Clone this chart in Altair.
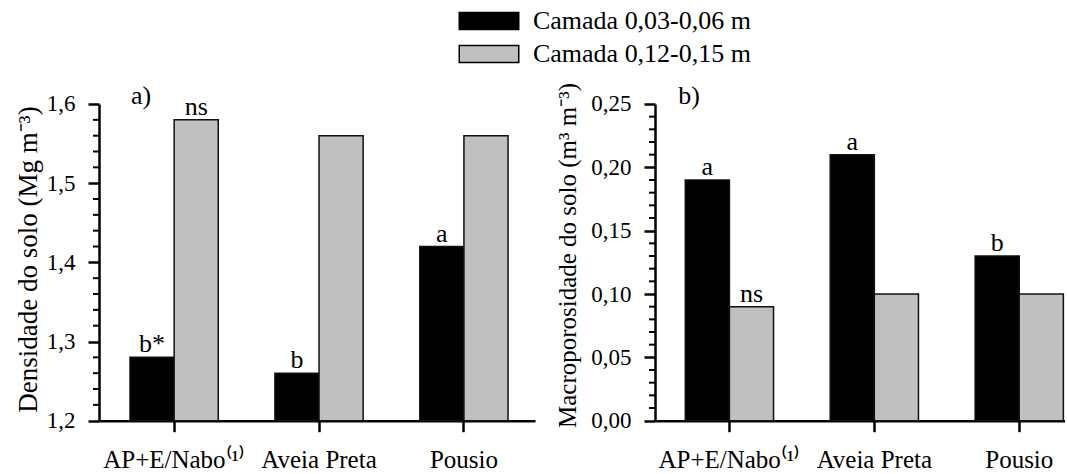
import altair as alt
import pandas as pd

categories = ["AP+E/Nabo⁽¹⁾", "Aveia Preta", "Pousio"]
series = ["Camada 0,03-0,06 m", "Camada 0,12-0,15 m"]

dens_top = [1.28, 1.26, 1.42]
dens_deep = [1.58, 1.56, 1.56]
dens_lab_top = ["b*", "b", "a"]
dens_lab_deep = ["ns", "", ""]

macro_top = [0.19, 0.21, 0.13]
macro_deep = [0.09, 0.10, 0.10]
macro_lab_top = ["a", "a", "b"]
macro_lab_deep = ["ns", "", ""]

dens_major = [1.2, 1.3, 1.4, 1.5, 1.6]
dens_minor = [1.22, 1.24, 1.26, 1.28, 1.32, 1.34, 1.36, 1.38,
              1.42, 1.44, 1.46, 1.48, 1.52, 1.54, 1.56, 1.58]
macro_major = [0.0, 0.05, 0.10, 0.15, 0.20, 0.25]
macro_minor = [0.01, 0.02, 0.03, 0.04, 0.06, 0.07, 0.08, 0.09,
               0.11, 0.12, 0.13, 0.14, 0.16, 0.17, 0.18, 0.19,
               0.21, 0.22, 0.23, 0.24]

FONT = "Liberation Serif"


def make_df(top, deep, lab_top, lab_deep):
    rows = []
    for i, c in enumerate(categories):
        rows.append({"cat": c, "series": series[0], "value": top[i], "lab": lab_top[i]})
        rows.append({"cat": c, "series": series[1], "value": deep[i], "lab": lab_deep[i]})
    return pd.DataFrame(rows)


def panel(df, domain, major, minor, decimals, title, title_x, title_y, title_fs,
          letter, letter_x, width, pad_outer, align, legend):
    xenc = alt.X(
        "cat:N", sort=categories,
        scale=alt.Scale(paddingInner=0.391, paddingOuter=pad_outer, align=align),
        axis=alt.Axis(title=None, labelFont=FONT, labelFontSize=25, labelColor="black",
                      labelAngle=0, labelBaseline="alphabetic", labelPadding=36,
                      tickSize=11, tickWidth=2.5, tickColor="black",
                      domainColor="black", domainWidth=2.5, grid=False),
    )
    xoff = alt.XOffset("series:N", sort=series,
                       scale=alt.Scale(paddingInner=0, paddingOuter=0))
    yscale = alt.Scale(domain=domain, zero=False, nice=False)
    yaxis = alt.Axis(
        values=major,
        labelExpr=f"replace(format(datum.value, '.{decimals}f'), '.', ',')",
        labelFont=FONT, labelFontSize=23, labelColor="black", labelPadding=13,
        tickSize=11, tickWidth=2.5, tickColor="black",
        domainColor="black", domainWidth=2.5, grid=False,
        title=title, titleFont=FONT, titleFontSize=title_fs, titleFontWeight="normal",
        titleColor="black", titleAngle=270, titleBaseline="alphabetic",
        titleAlign="center", titleX=title_x, titleY=title_y,
    )
    yenc = alt.Y("value:Q", scale=yscale, axis=yaxis)

    color = alt.Color(
        "series:N", sort=series,
        scale=alt.Scale(domain=series, range=["#000000", "#c0c0c0"]),
        legend=legend,
    )

    base = alt.Chart(df)
    bars = base.mark_bar(stroke="#111111", strokeWidth=1.5).encode(
        x=xenc, xOffset=xoff, y=yenc, y2=alt.datum(domain[0]), color=color
    )
    labels = base.mark_text(baseline="alphabetic", dy=-5, font=FONT, fontSize=26,
                            color="black").encode(
        x=xenc, xOffset=xoff, y=yenc, text="lab:N"
    )
    minor_df = pd.DataFrame({"value": minor})
    minor_ticks = alt.Chart(minor_df).mark_rule(color="black", strokeWidth=2).encode(
        y=yenc, x=alt.value(-6), x2=alt.value(0)
    )
    letter_df = pd.DataFrame({"t": [letter]})
    letter_mark = alt.Chart(letter_df).mark_text(
        baseline="alphabetic", align="center", font=FONT, fontSize=26, color="black"
    ).encode(x=alt.value(letter_x), y=alt.value(0), text="t:N")

    return alt.layer(bars, labels, minor_ticks, letter_mark).properties(
        width=width, height=316.7
    )


legend_left = alt.Legend(
    orient="none", legendX=377, legendY=-96, title=None, direction="vertical",
    symbolType="M-3.5,-1H3.5V1H-3.5Z", symbolSize=289,
    symbolStrokeColor="black", symbolStrokeWidth=1.5, symbolOpacity=1,
    labelFont=FONT, labelFontSize=26, labelColor="black", labelOffset=31,
    rowPadding=7, labelLimit=400,
)

left = panel(make_df(dens_top, dens_deep, dens_lab_top, dens_lab_deep),
             [1.2, 1.6], dens_major, dens_minor, 1,
             "Densidade do solo (Mg m⁻³)", -63, 155, 27,
             "a)", 42, 436, 0.2, 0.535, legend_left)
right = panel(make_df(macro_top, macro_deep, macro_lab_top, macro_lab_deep),
              [0.0, 0.25], macro_major, macro_minor, 2,
              "Macroporosidade do solo (m³ m⁻³)", -79, 151, 25,
              "b)", 34, 410, 0.11, 0.95, None)

chart = alt.hconcat(left, right, spacing=120, bounds="flush").resolve_scale(
    color="independent"
).properties(
    padding={"left": 13, "top": 8, "right": 0, "bottom": 0},
    background="white",
).configure(
    font=FONT,
    style={"guide-label": {"font": FONT}, "guide-title": {"font": FONT}},
).configure_axis(
    labelFont=FONT, titleFont=FONT
).configure_legend(
    labelFont=FONT
).configure_text(
    font=FONT
).configure_view(stroke=None)

chart.save("out.html", embed_options={"renderer": "svg", "actions": False})
